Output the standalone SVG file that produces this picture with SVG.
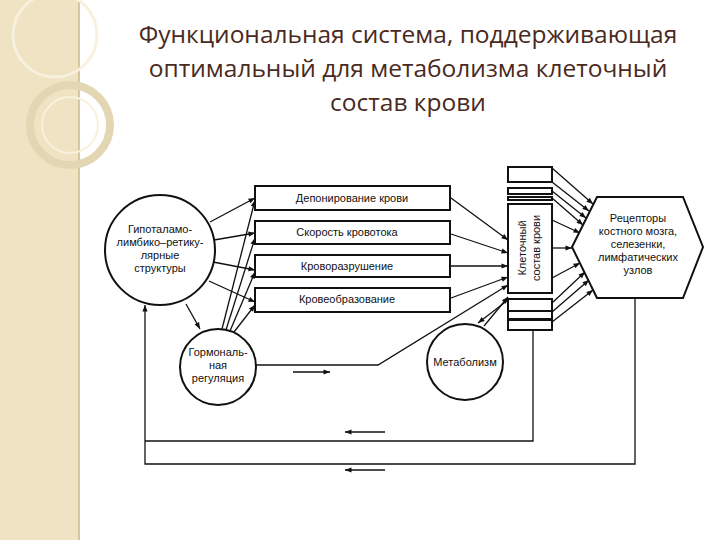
<svg xmlns="http://www.w3.org/2000/svg" width="720" height="540" viewBox="0 0 720 540">
<defs>
<marker id="a" viewBox="0 0 10 10" refX="10" refY="5" markerWidth="7" markerHeight="5" orient="auto"><path d="M0,1 L10,5 L0,9 z" fill="#111"/></marker>
</defs>
<style>
.s{fill:none;stroke:#111;stroke-width:1.3}
.n{fill:#fff;stroke:#111;stroke-width:2}
.t{font-family:"Liberation Sans",Arial,sans-serif;font-size:11px;fill:#111;text-anchor:middle}
.h{font-family:"Open Sans","Noto Sans",sans-serif;font-size:24.5px;fill:#4a2a1e;text-anchor:middle}
</style>
<rect width="720" height="540" fill="#fff"/>
<g id="deco">
<rect x="0" y="0" width="79" height="540" fill="#efe3c3"/>
<line x1="79" y1="0" x2="79" y2="540" stroke="#c9b98e" stroke-width="1.5"/>
<circle cx="55" cy="35" r="42" fill="none" stroke="#f8f1dd" stroke-width="3"/>
<circle cx="70" cy="125" r="40" fill="none" stroke="#e3d6b2" stroke-width="8"/>
<circle cx="70" cy="125" r="28" fill="none" stroke="#f8f1dd" stroke-width="2"/>
</g>
<g id="title">
<text class="h" x="408" y="43">Функциональная система, поддерживающая</text>
<text class="h" x="408" y="77">оптимальный для метаболизма клеточный</text>
<text class="h" x="408" y="111">состав крови</text>
</g>
<g id="connectors">
<path class="s" marker-end="url(#a)" d="M210,222 L255,198"/>
<path class="s" marker-end="url(#a)" d="M214,240 L255,233"/>
<path class="s" marker-end="url(#a)" d="M213,262 L255,270"/>
<path class="s" marker-end="url(#a)" d="M209,281 L255,302"/>
<path class="s" marker-end="url(#a)" d="M186,304 L200,329"/>
<path class="s" marker-end="url(#a)" d="M222,329 L255,200"/>
<path class="s" marker-end="url(#a)" d="M226,330 L255,238"/>
<path class="s" marker-end="url(#a)" d="M230,331 L255,272"/>
<path class="s" marker-end="url(#a)" d="M234,332 L255,305"/>
<path class="s" marker-end="url(#a)" d="M451,198 L508,240"/>
<path class="s" marker-end="url(#a)" d="M451,234 L508,253"/>
<path class="s" marker-end="url(#a)" d="M451,266 L508,266"/>
<path class="s" marker-end="url(#a)" d="M451,298 L508,277"/>
<path class="s" marker-end="url(#a)" d="M484,326 L508,297"/>
<path class="s" marker-end="url(#a)" d="M508,300 L478,323"/>
<path class="s" marker-end="url(#a)" d="M256,365 L378,365 L508,285"/>
<path class="s" marker-end="url(#a)" d="M293,372 L330,372"/>
<path class="s" d="M533,312 L533,441 L145,441"/>
<path class="s" marker-end="url(#a)" d="M385,432 L345,432"/>
<path class="s" marker-end="url(#a)" d="M635,298 L635,464 L145,464 L145,305"/>
<path class="s" marker-end="url(#a)" d="M385,470 L345,470"/>
<path class="s" marker-end="url(#a)" d="M552,168 L593,204"/>
<path class="s" marker-end="url(#a)" d="M552,182 L589,211"/>
<path class="s" marker-end="url(#a)" d="M552,191 L586,218"/>
<path class="s" marker-end="url(#a)" d="M552,198 L583,225"/>
<path class="s" marker-end="url(#a)" d="M552,220 L580,233"/>
<path class="s" marker-end="url(#a)" d="M552,248 L572,248"/>
<path class="s" marker-end="url(#a)" d="M552,278 L580,263"/>
<path class="s" marker-end="url(#a)" d="M552,303 L585,272"/>
<path class="s" marker-end="url(#a)" d="M552,312 L589,280"/>
<path class="s" marker-end="url(#a)" d="M552,322 L593,290"/>
</g>
<g id="n-hypo"><circle class="n" cx="160" cy="250" r="55"/>
<text class="t" x="160" y="233">Гипоталамо-</text><text class="t" x="160" y="246">лимбико–ретику-</text><text class="t" x="160" y="259">лярные</text><text class="t" x="160" y="272">структуры</text></g>
<g id="n-horm"><circle class="n" cx="218" cy="367" r="38"/>
<text class="t" x="218" y="356">Гормональ-</text><text class="t" x="218" y="369">ная</text><text class="t" x="218" y="382">регуляция</text></g>
<g id="n-metab"><circle class="n" cx="465" cy="362" r="38"/>
<text class="t" x="465" y="366">Метаболизм</text></g>
<g id="n-b1"><rect class="n" x="255" y="186" width="195" height="24"/><text class="t" x="352" y="202">Депонирование крови</text></g>
<g id="n-b2"><rect class="n" x="255" y="221" width="195" height="23"/><text class="t" x="347" y="236">Скорость кровотока</text></g>
<g id="n-b3"><rect class="n" x="255" y="255" width="195" height="22"/><text class="t" x="347" y="270">Кроворазрушение</text></g>
<g id="n-b4"><rect class="n" x="255" y="288" width="195" height="24"/><text class="t" x="347" y="303">Кровеобразование</text></g>
<g id="n-col">
<rect class="n" x="508" y="167" width="44" height="15"/>
<rect class="n" x="508" y="188" width="44" height="6"/>
<rect class="n" x="508" y="197" width="44" height="3" stroke-width="1.5"/>
<rect class="n" x="508" y="204" width="44" height="89"/>
<rect class="n" x="508" y="299" width="44" height="12"/>
<rect class="n" x="508" y="311" width="44" height="8"/>
<rect class="n" x="508" y="320" width="44" height="10"/>
<text class="t" transform="translate(526,248) rotate(-90)">Клеточный</text>
<text class="t" transform="translate(540,248) rotate(-90)">состав крови</text>
</g>
<g id="n-hex"><polygon class="n" points="572,247 597,197 683,197 703,247 683,298 597,298"/>
<text class="t" x="638" y="222">Рецепторы</text><text class="t" x="638" y="235">костного мозга,</text><text class="t" x="638" y="248">селезенки,</text><text class="t" x="638" y="261">лимфатических</text><text class="t" x="638" y="274">узлов</text></g>
</svg>
